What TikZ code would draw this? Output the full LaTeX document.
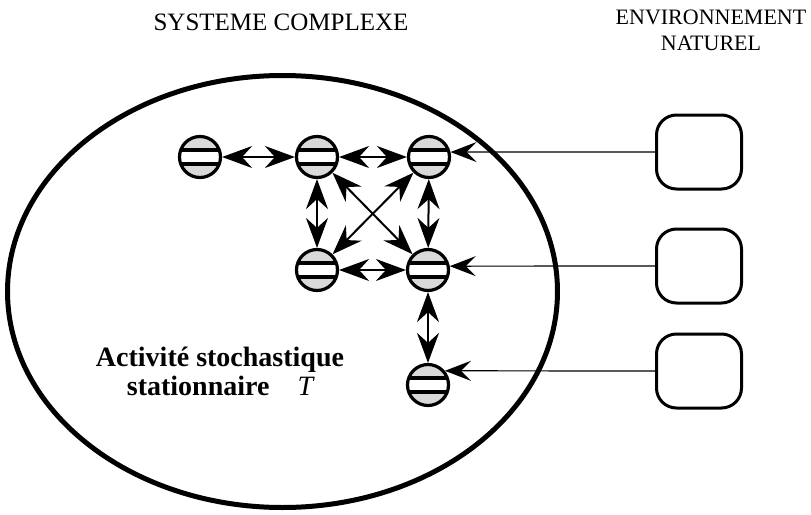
\documentclass[tikz,border=0pt]{standalone}
\usepackage{fontspec}
\setmainfont{Liberation Serif}
\usetikzlibrary{arrows.meta,shapes.geometric}
\tikzset{unite/.style={circle, draw, line width=1.6pt, inner sep=0pt, minimum size=20.5pt, fill=gray!30,
  path picture={\fill[black] ([yshift=-4.3pt]path picture bounding box.west) rectangle ([yshift=4.3pt]path picture bounding box.east);
    \fill[white] ([yshift=-2.4pt]path picture bounding box.west) rectangle ([yshift=2.4pt]path picture bounding box.east);}},
  milieu/.style={draw, rounded corners=10pt, line width=1.5pt, minimum width=42.5pt, minimum height=37pt},
  liaison/.style={line width=1pt, {Stealth[length=15pt,width=11pt,inset=5pt]}-{Stealth[length=15pt,width=11pt,inset=5pt]}},
  entree/.style={line width=0.6pt, -{Stealth[length=13pt,width=10pt,inset=5pt]}},
  titre/.style={align=center}}

\begin{document}
\begin{tikzpicture}[x=0.5pt,y=-0.5pt]
\useasboundingbox (0,0) rectangle (811,515);
\node[titre, font=\fontsize{12.5}{13}\selectfont] (syst) at (281,22) {SYSTEME COMPLEXE};
\node[titre, font=\fontsize{11}{13}\selectfont] (envt) at (711,30) {ENVIRONNEMENT\\NATUREL};
\node[draw, ellipse, line width=2.5pt, minimum width=275pt, minimum height=216pt] (systeme) at (282.5,291.5) {};
\node[unite] (a) at (200,157) {};
\node[unite] (b) at (317,157) {};
\node[unite] (c) at (429,157) {};
\node[unite] (d) at (317,270) {};
\node[unite] (e) at (428,270) {};
\node[unite] (f) at (428,385) {};
\foreach \u/\v in {a/b,b/c,d/e,b/d,c/e,e/f,b/e,c/d} \draw[liaison] (\u) -- (\v);
\foreach \i/\y/\u/\ang in {1/152/c/13,2/266/e/10,3/371/f/40} {
  \node[milieu] (m\i) at (699,\y) {};
  \draw[entree] (m\i.west) -- (\u.\ang);}
\node[titre, font=\bfseries\fontsize{14}{14.5}\selectfont] (activite) at (220,371) {Activité stochastique\\stationnaire\quad{\mdseries\itshape T}};
\end{tikzpicture}
\end{document}
